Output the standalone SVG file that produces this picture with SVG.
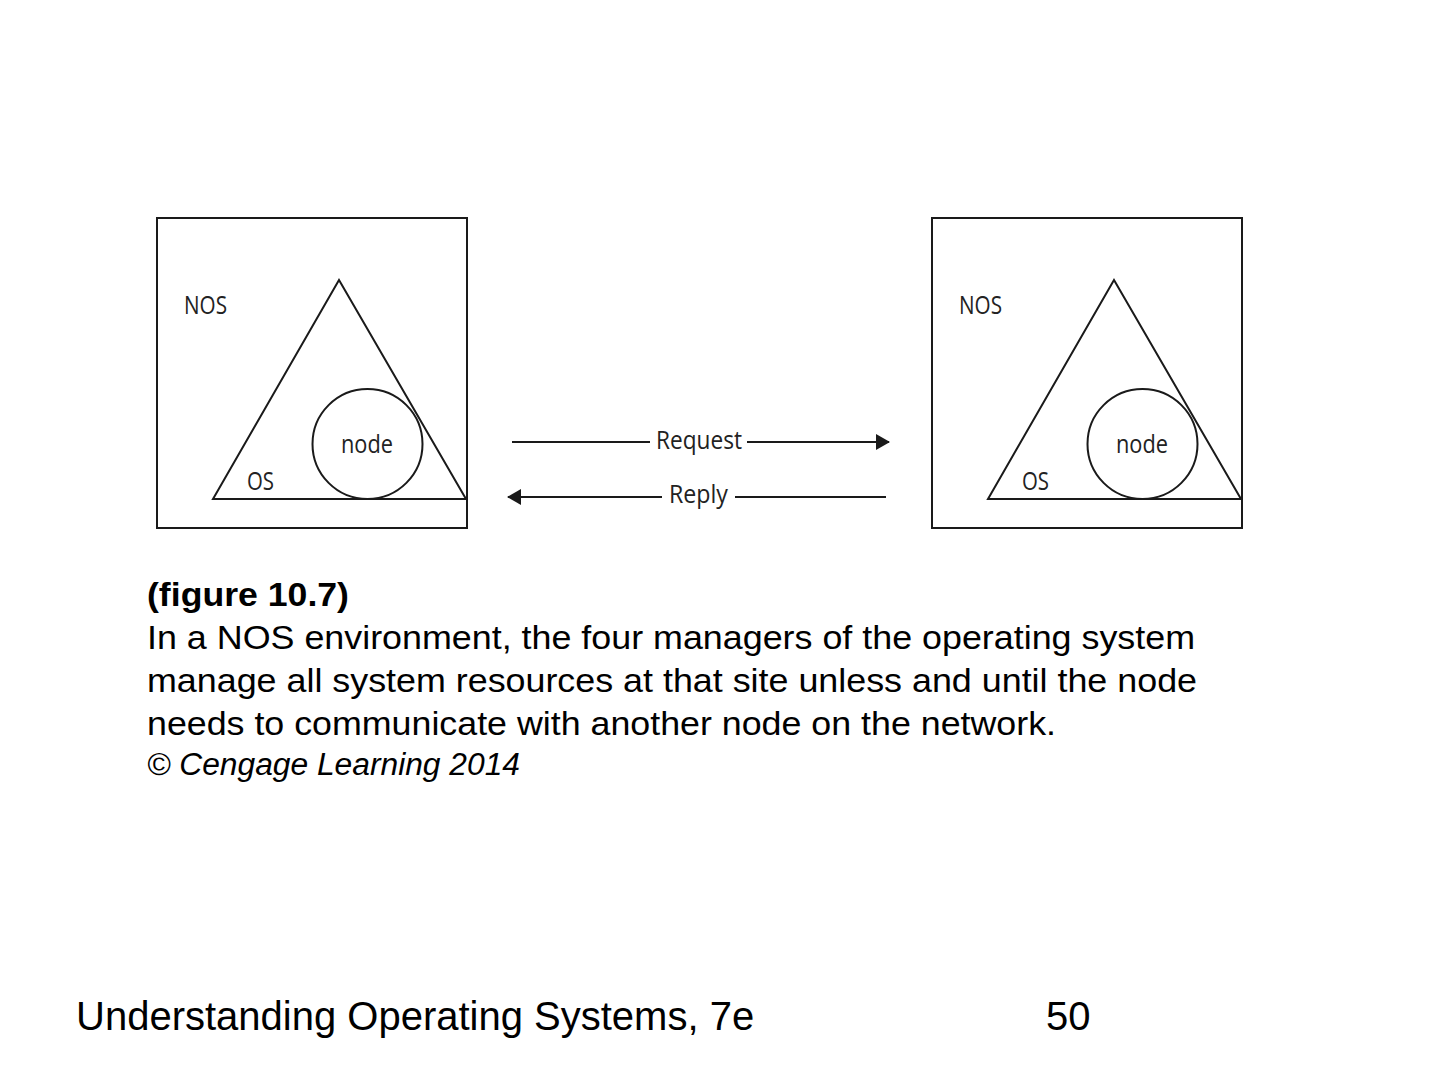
<svg xmlns="http://www.w3.org/2000/svg" width="1440" height="1080" viewBox="0 0 1440 1080">
<style>
.box{fill:none;stroke:#1a1a1a;stroke-width:2}
.shape{fill:none;stroke:#1a1a1a;stroke-width:2}
.lbl{font-family:"Open Sans","DejaVu Sans",sans-serif;font-size:25px;fill:#222}
.conn{stroke:#1a1a1a;stroke-width:2;fill:none}
.cap{font-family:"Liberation Sans",Arial,sans-serif;font-size:34px;fill:#000}
.copy{font-family:"Liberation Sans",Arial,sans-serif;font-size:31px;font-style:italic;fill:#000}
.foot{font-family:"Liberation Sans",Arial,sans-serif;font-size:40px;fill:#000}
</style>
<defs>
<marker id="ah" viewBox="0 0 14 16" refX="13" refY="8" markerWidth="14" markerHeight="16" markerUnits="userSpaceOnUse" orient="auto">
<path d="M0,0 L14,8 L0,16 Z" fill="#1a1a1a"/>
</marker>
</defs>
<rect width="1440" height="1080" fill="#fff"/>
<g id="node-left">
<rect class="box" x="157" y="218" width="310" height="310"/>
<polygon class="shape" points="339,280 213,499 466,499"/>
<circle class="shape" cx="367.5" cy="444" r="55"/>
<text class="lbl" x="184" y="314" textLength="43" lengthAdjust="spacingAndGlyphs">NOS</text>
<text class="lbl" x="247" y="490" textLength="27" lengthAdjust="spacingAndGlyphs">OS</text>
<text class="lbl" x="341" y="453" textLength="52" lengthAdjust="spacingAndGlyphs">node</text>
</g>
<g id="node-right">
<rect class="box" x="932" y="218" width="310" height="310"/>
<polygon class="shape" points="1114,280 988,499 1241,499"/>
<circle class="shape" cx="1142.5" cy="444" r="55"/>
<text class="lbl" x="959" y="314" textLength="43" lengthAdjust="spacingAndGlyphs">NOS</text>
<text class="lbl" x="1022" y="490" textLength="27" lengthAdjust="spacingAndGlyphs">OS</text>
<text class="lbl" x="1116" y="453" textLength="52" lengthAdjust="spacingAndGlyphs">node</text>
</g>
<g id="connectors">
<line class="conn" x1="512" y1="442" x2="650" y2="442"/>
<line class="conn" x1="747" y1="442" x2="889" y2="442" marker-end="url(#ah)"/>
<text class="lbl" x="656" y="449" textLength="86" lengthAdjust="spacingAndGlyphs">Request</text>
<line class="conn" x1="662" y1="497" x2="508" y2="497" marker-end="url(#ah)"/>
<line class="conn" x1="735" y1="497" x2="886" y2="497"/>
<text class="lbl" x="669" y="503" textLength="59" lengthAdjust="spacingAndGlyphs">Reply</text>
</g>
<g id="caption">
<text class="cap" x="147" y="606" font-weight="bold" textLength="202" lengthAdjust="spacingAndGlyphs">(figure 10.7)</text>
<text class="cap" x="147" y="649" textLength="1048" lengthAdjust="spacingAndGlyphs">In a NOS environment, the four managers of the operating system</text>
<text class="cap" x="147" y="692" textLength="1050" lengthAdjust="spacingAndGlyphs">manage all system resources at that site unless and until the node</text>
<text class="cap" x="147" y="735" textLength="909" lengthAdjust="spacingAndGlyphs">needs to communicate with another node on the network.</text>
<text class="copy" x="147" y="775" textLength="373" lengthAdjust="spacingAndGlyphs">© Cengage Learning 2014</text>
</g>
<g id="footer">
<text class="foot" x="76" y="1030">Understanding Operating Systems, 7e</text>
<text class="foot" x="1046" y="1030">50</text>
</g>
</svg>
